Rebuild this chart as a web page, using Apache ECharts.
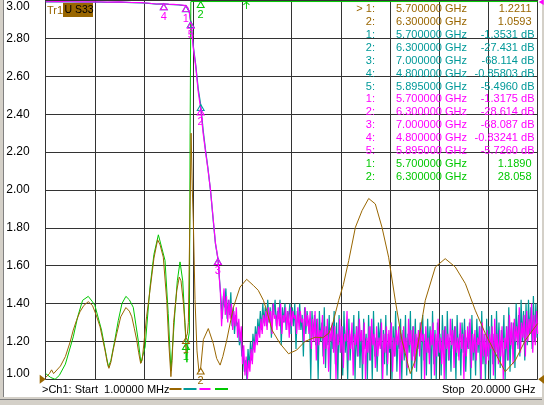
<!DOCTYPE html>
<html>
<head>
<meta charset="UTF-8">
<title>Tr1 U S33</title>
<script src="https://cdn.jsdelivr.net/npm/echarts@6/dist/echarts.min.js"></script>
<style>
    html, body { margin: 0; padding: 0; background: #fff; }
    #chart { width: 544px; height: 405px; }
</style>
</head>
<body>
<div id="chart"></div>
<script>
// frequency in GHz; brown and green are SWR, teal and magenta are dB
const brownTrace = [
    [0.001, 1.01], [0.15, 1.03], [0.24, 1.05], [0.32, 1.03], [0.4, 1.03], [0.6, 1.07], [0.8, 1.12],
    [1.0, 1.2], [1.12, 1.26], [1.25, 1.31], [1.39, 1.356], [1.55, 1.39], [1.73, 1.41], [1.9, 1.39],
    [2.05, 1.34], [2.21, 1.277], [2.41, 1.154], [2.5, 1.09], [2.57, 1.058], [2.65, 1.09], [2.75, 1.16],
    [2.89, 1.242], [3.05, 1.33], [3.26, 1.379], [3.4, 1.36], [3.5, 1.33], [3.6, 1.27], [3.7, 1.207],
    [3.78, 1.14], [3.86, 1.084], [3.92, 1.1], [4.0, 1.2], [4.1, 1.33], [4.24, 1.47], [4.4, 1.64],
    [4.55, 1.737], [4.65, 1.71], [4.78, 1.645], [4.92, 1.417], [5.0, 1.2], [5.09, 1.014], [5.14, 1.1],
    [5.2, 1.3], [5.33, 1.47], [5.43, 1.54], [5.5, 1.52], [5.6, 1.4], [5.7, 1.2211], [5.76, 1.24],
    [5.8, 1.3], [5.83, 1.58], [5.88, 2.0], [5.91, 2.3], [5.96, 2.0], [6.0, 1.84], [6.07, 1.42],
    [6.15, 1.15], [6.23, 1.04], [6.3, 1.0593], [6.41, 1.21], [6.61, 1.268], [6.81, 1.19], [6.95, 1.11],
    [7.09, 1.075], [7.2, 1.12], [7.36, 1.207], [7.63, 1.38], [7.9, 1.487], [8.17, 1.528], [8.44, 1.496],
    [8.64, 1.47], [8.85, 1.417], [8.98, 1.365], [9.2, 1.26], [9.52, 1.19], [9.87, 1.135], [10.2, 1.154],
    [10.54, 1.2], [10.95, 1.222], [11.27, 1.22], [11.52, 1.245], [11.68, 1.3], [11.91, 1.417], [12.1, 1.5],
    [12.32, 1.628], [12.59, 1.803], [12.86, 1.891], [13.13, 1.955], [13.4, 1.926], [13.67, 1.803],
    [13.94, 1.645], [14.21, 1.417], [14.48, 1.207], [14.82, 1.03], [15.02, 1.1], [15.43, 1.417],
    [15.84, 1.593], [16.24, 1.637], [16.65, 1.593], [17.06, 1.505], [17.46, 1.365], [17.87, 1.242],
    [18.28, 1.137], [18.68, 1.04], [19.09, 1.1], [19.5, 1.207], [20.0, 1.295]
];

const greenTrace = [
    [0.001, 1.03], [0.2, 1.01], [0.38, 1.0], [0.55, 1.02], [0.8, 1.08], [1.12, 1.224], [1.3, 1.33],
    [1.5, 1.417], [1.73, 1.438], [1.9, 1.41], [2.0, 1.39], [2.27, 1.26], [2.47, 1.12], [2.55, 1.065],
    [2.65, 1.1], [2.8, 1.2], [2.95, 1.31], [3.1, 1.4], [3.26, 1.438], [3.4, 1.42], [3.56, 1.38],
    [3.76, 1.207], [3.87, 1.087], [4.04, 1.17], [4.24, 1.487], [4.4, 1.66], [4.58, 1.763], [4.85, 1.628],
    [4.98, 1.347], [5.09, 1.045], [5.25, 1.35], [5.35, 1.52], [5.46, 1.62], [5.57, 1.52], [5.66, 1.3],
    [5.7, 1.189], [5.74, 1.09], [5.78, 1.2], [5.84, 1.25], [5.87, 2.3], [5.9, 2.995], [20.0, 2.995]
];

const tealPass = [
    [0.001, -0.35], [0.5, -0.3], [1, -0.35], [1.5, -0.4], [2, -0.35], [2.5, -0.45], [3, -0.4],
    [3.5, -0.55], [3.9, -0.6], [4.2, -0.75], [4.5, -0.95], [4.8, -0.858], [5.0, -1.0], [5.2, -1.05],
    [5.4, -1.15], [5.55, -1.25], [5.7, -1.3531], [5.78, -1.8], [5.84, -3.0], [5.895, -5.496],
    [5.95, -8.6], [6.0, -12], [6.1, -17], [6.2, -23.3], [6.3, -27.431], [6.4, -34.2], [6.5, -39.6],
    [6.6, -44.5], [6.7, -50.2], [6.8, -57.3], [6.9, -64.2], [7.0, -68.114], [7.1, -76.5], [7.18, -84]
];

const magentaPass = [
    [0.001, -0.3], [0.5, -0.25], [1, -0.3], [1.5, -0.35], [2, -0.3], [2.5, -0.4], [3, -0.35],
    [3.5, -0.5], [3.9, -0.55], [4.2, -0.7], [4.5, -0.9], [4.8, -0.83], [5.0, -0.95], [5.2, -1.0],
    [5.4, -1.1], [5.55, -1.2], [5.7, -1.3175], [5.78, -1.9], [5.84, -3.2], [5.895, -5.726],
    [5.95, -9], [6.0, -12.5], [6.1, -17.5], [6.2, -24], [6.3, -28.614], [6.4, -35], [6.5, -40],
    [6.6, -44.8], [6.7, -50], [6.8, -57], [6.9, -64], [7.0, -68.087], [7.1, -77], [7.15, -86]
];

// noise floor, one reading every 0.05 GHz
const noiseStep = 0.05;
const magentaNoiseStart = 7.2;
const magentaNoise = [
    -80, -76, -83, -78, -85, -79, -84, -80, -87, -82, -86, -81, -89, -84, -90, -86,
    -96, -91, -99, -94, -100, -95, -98, -92, -96, -90, -93, -88, -91, -86, -89, -84, -88, -83, -86, -82,
    -87, -81, -85, -82, -88, -80, -84, -83, -87, -81, -86, -80, -88, -83, -85, -81, -87, -82, -89, -81,
    -86, -82, -84, -83, -88, -81, -87, -82, -85, -84, -90, -81, -86, -83, -88, -82, -92, -84, -90, -82,
    -95, -84, -91, -87, -89, -83, -96, -86, -92, -84, -98, -87, -90, -85, -93, -86, -100, -88, -91, -84,
    -93, -86, -97, -88, -90, -82, -95, -87, -92, -85, -99, -88, -91, -86, -94, -84, -90, -87, -96, -85,
    -100, -89, -93, -86, -95, -84, -91, -88, -97, -86, -94, -89, -92, -85, -100, -88, -93, -86, -96, -87,
    -92, -85, -98, -89, -94, -87, -91, -86, -100, -88, -95, -86, -93, -89, -97, -84, -91, -87, -95, -86,
    -97, -88, -92, -87, -94, -85, -90, -88, -100, -86, -93, -89, -96, -87, -91, -85, -99, -88, -94, -84,
    -93, -89, -96, -87, -100, -86, -92, -88, -95, -84, -91, -87, -97, -86, -93, -89, -95, -85, -92, -88,
    -100, -87, -94, -86, -92, -84, -97, -88, -93, -87, -95, -89, -91, -86, -100, -85, -94, -88, -96, -87,
    -95, -88, -92, -86, -99, -84, -93, -88, -96, -87, -94, -86, -100, -89, -92, -86, -95, -83, -91, -85,
    -96, -84, -90, -86, -92, -81, -93, -85, -89, -83, -94, -82, -90, -84, -88, -80, -93, -83, -91, -82,
    -88
];
const tealNoiseStart = 7.225;
const tealNoise = [
    -78, -81, -76, -84, -79, -83, -77, -86, -81, -88, -83, -86, -85, -91, -88, -94,
    -93, -98, -95, -100, -92, -97, -90, -95, -88, -92, -86, -90, -84, -88, -82, -87, -80, -85, -81, -86,
    -79, -85, -81, -89, -80, -83, -79, -86, -82, -84, -79, -91, -81, -85, -80, -87, -82, -84, -80, -88,
    -81, -86, -80, -92, -82, -85, -80, -87, -83, -94, -81, -88, -82, -86, -84, -100, -82, -89, -83, -91,
    -84, -100, -82, -90, -85, -94, -81, -97, -86, -91, -83, -100, -86, -92, -82, -96, -85, -100, -83, -93,
    -86, -99, -82, -93, -87, -100, -84, -95, -88, -91, -83, -100, -86, -94, -82, -97, -87, -100, -84, -92,
    -88, -100, -83, -95, -86, -100, -82, -94, -89, -98, -85, -91, -84, -100, -87, -96, -83, -99, -88, -93,
    -85, -100, -86, -94, -82, -98, -89, -92, -84, -100, -87, -95, -83, -99, -88, -93, -82, -100, -86, -94,
    -84, -98, -89, -92, -85, -100, -83, -95, -88, -99, -84, -93, -86, -100, -82, -96, -87, -100, -85, -94,
    -88, -99, -83, -93, -86, -100, -82, -95, -89, -98, -84, -92, -86, -100, -83, -94, -88, -99, -85, -93,
    -84, -98, -89, -92, -85, -100, -83, -95, -88, -99, -84, -93, -86, -100, -82, -96, -88, -100, -84, -94,
    -86, -100, -83, -96, -88, -100, -82, -94, -85, -97, -87, -92, -83, -100, -86, -95, -81, -98, -85, -92,
    -85, -97, -80, -91, -83, -94, -79, -90, -82, -95, -80, -91, -79, -88, -81, -92, -78, -90, -80, -89
];

// marker readout
const markerFreqs = [5.7, 6.3, 7.0, 4.8, 5.895];
const brownMarkers = [1.2211, 1.0593];
const tealMarkers = [-1.3531, -27.431, -68.114, -0.85803, -5.4960];
const magentaMarkers = [-1.3175, -28.614, -68.087, -0.83241, -5.7260];
const greenMarkers = [1.1890, 28.058];

const BROWN = '#996600', TEAL = '#009999', MAGENTA = '#ff00ff', GREEN = '#00c800';
const GRID = '#333333';
const FONT = '"Liberation Sans", Arial, sans-serif';

function withNoise(pass, start, noise) {
    return pass.concat(noise.map((v, i) => [+(start + i * noiseStep).toFixed(3), v]));
}

function markerPoints(vals, color, top, z, showLabel) {
    return {
        z: z,
        symbol: 'triangle',
        symbolSize: [7, 6],
        symbolOffset: [0, 3],
        itemStyle: { color: 'rgba(0,0,0,0)', borderColor: color, borderWidth: 1 },
        label: { show: showLabel, position: 'bottom', distance: 1, color: color, fontSize: 11, fontFamily: FONT,
                 formatter: p => p.value },
        data: vals.map((v, i) => ({ coord: [markerFreqs[i], Math.min(v, top)], value: i + 1 }))
    };
}

function lineSeries(name, data, color, width, yIndex, marks, z) {
    return {
        name: name, type: 'line', data: data, yAxisIndex: yIndex,
        showSymbol: false, symbol: 'none', clip: true, z: z,
        lineStyle: { color: color, width: width },
        markPoint: marks,
        animation: false
    };
}

const brownMarks = markerPoints(brownMarkers, BROWN, 2.995, 9, true);
brownMarks.data.push(
    { coord: [0, 1], symbol: 'triangle', symbolSize: [9, 6], symbolRotate: -90, symbolOffset: [-3, 0],
      itemStyle: { color: BROWN, borderWidth: 0 }, label: { show: false } },
    { coord: [20, 1], symbol: 'triangle', symbolSize: [9, 6], symbolRotate: 90, symbolOffset: [3.5, 0],
      itemStyle: { color: BROWN, borderWidth: 0 }, label: { show: false } }
);
const tealMarks = markerPoints(tealMarkers, TEAL, 0, 6, false);
const magentaMarks = markerPoints(magentaMarkers, MAGENTA, 0, 7, true);
magentaMarks.data.push(
    { coord: [20, 0], symbol: 'triangle', symbolSize: [6, 5], symbolRotate: 90, symbolOffset: [3.5, 1.5],
      itemStyle: { color: MAGENTA, borderWidth: 0 }, label: { show: false } }
);
const greenMarks = markerPoints(greenMarkers, GREEN, 2.995, 8, true);
greenMarks.data.push(
    { coord: [8.16, 2.995], symbol: 'path://M0,0 L0,10 M0,0 L-4,4 M0,0 L4,4', symbolSize: [6, 7],
      symbolOffset: [0, 4], itemStyle: { color: 'rgba(0,0,0,0)', borderColor: GREEN, borderWidth: 1 },
      label: { show: false } }
);

// readout table, one row per marker
const rows = [];
brownMarkers.forEach((v, i) => rows.push({ n: (i === 0 ? '> ' : '') + (i + 1) + ':', f: markerFreqs[i], v: v, dB: false, c: BROWN }));
tealMarkers.forEach((v, i) => rows.push({ n: (i + 1) + ':', f: markerFreqs[i], v: v, dB: true, c: TEAL }));
magentaMarkers.forEach((v, i) => rows.push({ n: (i + 1) + ':', f: markerFreqs[i], v: v, dB: true, c: MAGENTA }));
greenMarkers.forEach((v, i) => rows.push({ n: (i + 1) + ':', f: markerFreqs[i], v: v, dB: false, c: GREEN }));

const graphic = [
    { type: 'rect', shape: { x: 0, y: 0, width: 3, height: 405 }, style: { fill: '#d4d0c8' }, z: 1 },
    { type: 'line', shape: { x1: 3.5, y1: 0, x2: 3.5, y2: 398 }, style: { stroke: '#808080', lineWidth: 1 }, z: 1 },
    { type: 'rect', shape: { x: 0, y: 397, width: 544, height: 8 }, style: { fill: '#d4d0c8' }, z: 1 },
    { type: 'line', shape: { x1: 0, y1: 399.5, x2: 544, y2: 399.5 }, style: { stroke: '#808080', lineWidth: 1 }, z: 1 },
    { type: 'rect', shape: { x: 542, y: 0, width: 2, height: 405 }, style: { fill: '#d4d0c8' }, z: 1 },
    { type: 'text', x: 47, y: 11, style: { text: 'Tr1', fill: BROWN, font: '11px ' + FONT, verticalAlign: 'middle' }, z: 5 },
    { type: 'rect', shape: { x: 63, y: 3, width: 30, height: 14 }, style: { fill: BROWN }, z: 5 },
    { type: 'text', x: 64.5, y: 10.5, style: { text: 'U S33', fill: '#000', font: '10.5px ' + FONT, verticalAlign: 'middle' }, z: 6 },
    { type: 'text', x: 42, y: 390, style: { text: '>Ch1: Start  1.00000 MHz', fill: '#000', font: '11px ' + FONT, verticalAlign: 'middle' }, z: 5 },
    { type: 'text', x: 535.5, y: 390, style: { text: 'Stop  20.0000 GHz', fill: '#000', font: '11px ' + FONT, align: 'right', verticalAlign: 'middle' }, z: 5 }
];
[BROWN, TEAL, MAGENTA, GREEN].forEach((c, i) => {
    const x0 = [169.5, 183.5, 199.5, 215][i];
    const x1 = [181.5, 196.5, 210.5, 228][i];
    graphic.push({ type: 'line', shape: { x1: x0, y1: 389, x2: x1, y2: 389 }, style: { stroke: c, lineWidth: 2 }, z: 5 });
});
rows.forEach((r, k) => {
    const y = 9 + k * 12.92;
    const font = '11px ' + FONT;
    graphic.push(
        { type: 'text', x: 375, y: y, style: { text: r.n, fill: r.c, font: font, align: 'right', verticalAlign: 'middle' }, z: 3 },
        { type: 'text', x: 396, y: y, style: { text: r.f.toFixed(6) + ' GHz', fill: r.c, font: font, verticalAlign: 'middle' }, z: 3 },
        { type: 'text', x: r.dB ? 534.5 : 531.5, y: y, style: { text: r.v.toPrecision(5) + (r.dB ? ' dB' : ''), fill: r.c, font: font, align: 'right', verticalAlign: 'middle' }, z: 3 }
    );
});

const chart = echarts.init(document.getElementById('chart'));
chart.setOption({
    animation: false,
    backgroundColor: '#ffffff',
    grid: { left: 45.7, right: 6.3, top: 0.6, bottom: 25.7, containLabel: false },
    xAxis: {
        type: 'value', min: 0, max: 20, interval: 2,
        axisLine: { show: true, lineStyle: { color: GRID, width: 1 } },
        axisTick: { show: false }, axisLabel: { show: false },
        splitLine: { show: true, lineStyle: { color: GRID, width: 1 } }
    },
    yAxis: [{
        type: 'value', min: 1, max: 3, interval: 0.2,
        axisLine: { show: true, lineStyle: { color: GRID, width: 1 } },
        axisTick: { show: false },
        axisLabel: {
            color: '#000', fontSize: 12, fontFamily: FONT, margin: 16,
            formatter: v => v.toFixed(2),
            verticalAlignMaxLabel: 'top', verticalAlignMinLabel: 'bottom'
        },
        splitLine: { show: true, lineStyle: { color: GRID, width: 1 } }
    }, {
        type: 'value', min: -100, max: 0, interval: 10, show: false,
        splitLine: { show: false }
    }],
    graphic: graphic,
    series: [
        lineSeries('S21 teal', withNoise(tealPass, tealNoiseStart, tealNoise), TEAL, 1.2, 1, tealMarks, 2),
        lineSeries('S21 magenta', withNoise(magentaPass, magentaNoiseStart, magentaNoise), MAGENTA, 1.2, 1, magentaMarks, 3),
        lineSeries('SWR green', greenTrace, GREEN, 1, 0, greenMarks, 4),
        lineSeries('S33 SWR', brownTrace, BROWN, 1, 0, brownMarks, 5)
    ]
});
</script>
</body>
</html>
